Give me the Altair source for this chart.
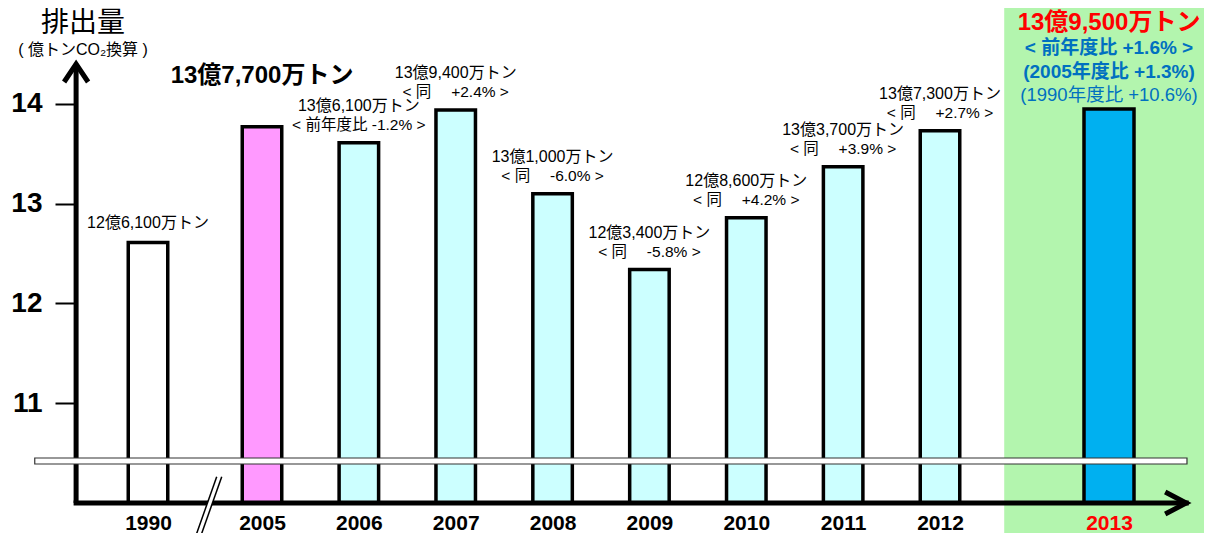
import altair as alt
import pandas as pd

# ---- data ----
years = [1990, 2005, 2006, 2007, 2008, 2009, 2010, 2011, 2012, 2013]
emissions = [12.61, 13.77, 13.61, 13.94, 13.10, 12.34, 12.86, 13.37, 13.73, 13.95]
amount_labels = ["12億6,100万トン", "13億7,700万トン", "13億6,100万トン", "13億9,400万トン",
                 "13億1,000万トン", "12億3,400万トン", "12億8,600万トン", "13億3,700万トン",
                 "13億7,300万トン", "13億9,500万トン"]
change_labels = ["", "", "< 前年度比 -1.2% >", "< 同\u3000 +2.4% >", "< 同\u3000 -6.0% >",
                 "< 同\u3000 -5.8% >", "< 同\u3000 +4.2% >", "< 同\u3000 +3.9% >",
                 "< 同\u3000 +2.7% >", "< 前年度比 +1.6% >"]
latest_notes = ["(2005年度比 +1.3%)", "(1990年度比 +10.6%)"]
y_ticks = [11, 12, 13, 14]
title_text = "排出量"
unit_text = "( 億トンCO\u2082換算 )"

# ---- styles ----
bar_fills = ["#ffffff", "#ff99ff"] + ["#ccffff"] * 7 + ["#00b0f0"]
FONT = "Liberation Sans, Noto Sans CJK JP"
BLUE = "#0070c0"
GREEN = "#b3f5ae"

df = pd.DataFrame({"year": years, "value": emissions,
                   "amount": amount_labels, "change": change_labels})

xs = alt.Scale(domain=[1980, 1990, 2005, 2012, 2013, 2014],
               range=[0, 73, 187, 865, 1034, 1123], nice=False, zero=False)
ys = alt.Scale(domain=[10, 14.4], nice=False, zero=False)

x_axis = alt.Axis(values=years, format="d", title=None, domain=False, ticks=False, tickSize=0,
                  grid=False, labelFont="Liberation Sans", labelFontSize=21,
                  labelFontWeight="bold", labelPadding=26, labelBaseline="alphabetic",
                  labelFlush=False, labelOverlap=False, zindex=1,
                  labelColor={"condition": {"test": "datum.value == 2013", "value": "#ff0000"},
                              "value": "black"})
y_axis = alt.Axis(values=y_ticks, title=None, domain=False, ticks=True, tickSize=20,
                  tickWidth=2, tickColor="black", grid=False, labelFont="Liberation Sans",
                  labelFontSize=28, labelFontWeight="bold", labelPadding=13,
                  labelColor="black", zindex=1)


def X(field):
    return alt.X(field, type="quantitative", scale=xs, axis=x_axis)


def Y(field):
    return alt.Y(field, type="quantitative", scale=ys, axis=y_axis)


color_enc = alt.Color("year:O", scale=alt.Scale(domain=years, range=bar_fills), legend=None)

# highlighted background for the latest year
bg = alt.Chart(pd.DataFrame({"x": [2012.38], "x2": [2014.4], "y": [9.5], "y2": [15.3]})).mark_rect(
    color=GREEN).encode(x=X("x"), x2="x2", y=Y("y"), y2="y2")

bars = alt.Chart(df).transform_filter("datum.year < 2013").mark_bar(
    width=39.5, stroke="black", strokeWidth=3.5).encode(
    x=X("year"), y=Y("value"), y2=alt.datum(10), color=color_enc)
bar_latest = alt.Chart(df).transform_filter("datum.year == 2013").mark_bar(
    width=50, stroke="black", strokeWidth=3.5).encode(
    x=X("year"), y=Y("value"), y2=alt.datum(10), color=color_enc)

# axis lines
y_line = alt.Chart(pd.DataFrame({"x": [1980], "y": [10], "y2": [14.4]})).mark_rule(
    color="black", strokeWidth=5).encode(x=X("x"), y=Y("y"), y2="y2")
x_line = alt.Chart(pd.DataFrame({"x": [1980], "x2": [2014], "y": [10]})).mark_rule(
    color="black", strokeWidth=5, strokeCap="square").encode(x=X("x"), x2="x2", y=Y("y"))

# axis-break band
band = alt.Chart(pd.DataFrame({"x": [1974.25], "x2": [2014.01], "y": [10.391], "y2": [10.451]})).mark_rect(
    fill="white", stroke="#333333", strokeWidth=1.2).encode(x=X("x"), x2="x2", y=Y("y"), y2="y2")

# "//" break marks on the x axis
brk_white = alt.Chart(pd.DataFrame({"x": [1996.74], "x2": [1999.37], "y": [9.696], "y2": [10.263]})).mark_rule(
    color="white", strokeWidth=4.5).encode(x=X("x"), x2="x2", y=Y("y"), y2="y2")
brk_black = alt.Chart(pd.DataFrame({"x": [1996.41, 1997.07], "x2": [1999.04, 1999.70],
                                    "y": [9.696, 9.696], "y2": [10.263, 10.263]})).mark_rule(
    color="black", strokeWidth=1.5).encode(x=X("x"), x2="x2", y=Y("y"), y2="y2")

# arrow heads
arrow_up = alt.Chart(pd.DataFrame({"x": [1980], "y": [14.4]})).mark_point(
    shape="M-1,1.5L0,0L1,1.5", size=576, filled=False, stroke="black", strokeWidth=5,
    strokeJoin="miter", opacity=1).encode(x=X("x"), y=Y("y"))
arrow_right = alt.Chart(pd.DataFrame({"x": [2014], "y": [10]})).mark_point(
    shape="M-1.75,-0.92L0,0L-1.75,0.92", size=576, filled=False, stroke="black", strokeWidth=5,
    strokeJoin="miter", opacity=1).encode(x=X("x"), y=Y("y"))

# labels above bars
mid = "datum.year > 2005 && datum.year < 2013"
amount_mid = alt.Chart(df).transform_filter(mid).mark_text(
    font=FONT, fontSize=16, dy=-37, color="black").encode(x=X("year"), y=Y("value"), text="amount")
change_mid = alt.Chart(df).transform_filter(mid).mark_text(
    font=FONT, fontSize=15.5, dy=-18, color="black").encode(x=X("year"), y=Y("value"), text="change")
amount_1990 = alt.Chart(df).transform_filter("datum.year == 1990").mark_text(
    font=FONT, fontSize=16, dy=-20, color="black").encode(x=X("year"), y=Y("value"), text="amount")
amount_2005 = alt.Chart(df).transform_filter("datum.year == 2005").mark_text(
    font=FONT, fontSize=24, fontWeight="bold", dy=-51, color="black").encode(
    x=X("year"), y=Y("value"), text="amount")

latest = alt.Chart(df).transform_filter("datum.year == 2013")
amount_2013 = latest.mark_text(font=FONT, fontSize=24, fontWeight="bold", dy=-86,
                               color="#ff0000").encode(x=X("year"), y=Y("value"), text="amount")
change_2013 = latest.mark_text(font=FONT, fontSize=19, fontWeight="bold", dy=-61,
                               color=BLUE).encode(x=X("year"), y=Y("value"), text="change")
note1_2013 = latest.transform_calculate(note=f"'{latest_notes[0]}'").mark_text(
    font=FONT, fontSize=19, fontWeight="bold", dy=-37, color=BLUE).encode(
    x=X("year"), y=Y("value"), text="note:N")
note2_2013 = latest.transform_calculate(note=f"'{latest_notes[1]}'").mark_text(
    font=FONT, fontSize=18.5, dy=-14, color=BLUE).encode(
    x=X("year"), y=Y("value"), text="note:N")

# title (y-axis caption)
title = alt.Chart(pd.DataFrame({"x": [1980.96], "y": [14.805], "t": [title_text]})).mark_text(
    font=FONT, fontSize=28, color="black").encode(x=X("x"), y=Y("y"), text="t")
unit = alt.Chart(pd.DataFrame({"x": [1980.96], "y": [14.54], "t": [unit_text]})).mark_text(
    font=FONT, fontSize=16, color="black").encode(x=X("x"), y=Y("y"), text="t")

chart = alt.layer(
    bg, bars, bar_latest, y_line, x_line, band, brk_white, brk_black, arrow_up, arrow_right,
    amount_mid, change_mid, amount_1990, amount_2005,
    amount_2013, change_2013, note1_2013, note2_2013, title, unit
).properties(
    width=1123, height=439,
    padding={"left": 67, "top": 56, "right": 6, "bottom": 30},
    autosize=alt.AutoSizeParams(type="none"),
    background="white",
).configure_view(strokeWidth=0)

chart.save("out.html", embed_options={"renderer": "svg", "actions": False})
